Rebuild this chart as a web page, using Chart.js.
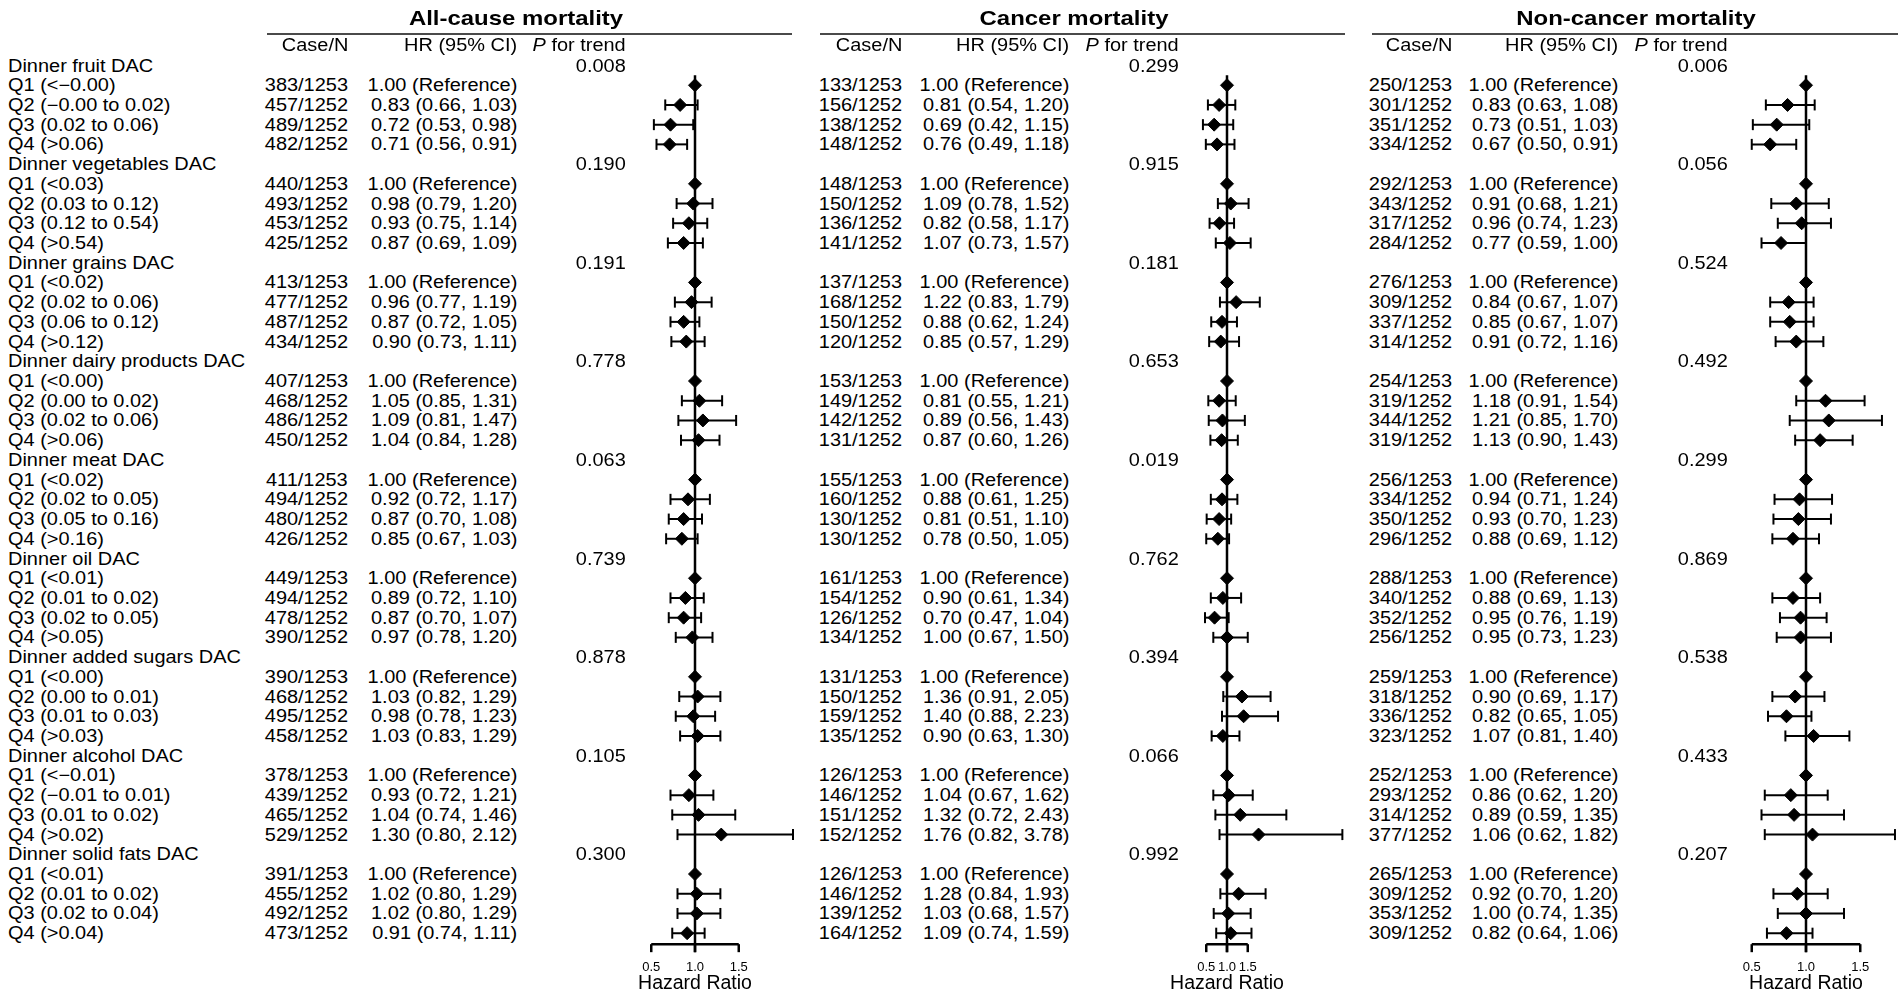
<!DOCTYPE html>
<html>
<head>
<meta charset="utf-8">
<script src="https://cdn.jsdelivr.net/npm/chart.js@4.4.1/dist/chart.umd.min.js"></script>
<style>
  html, body { margin: 0; padding: 0; background: #fff; }
  #page { position: relative; width: 1902px; height: 1000px; overflow: hidden;
          font-family: "Liberation Sans", Arial, sans-serif; color: #000; }
  #page canvas { position: absolute; top: 0; }
  .t { position: absolute; white-space: nowrap; font-size: 17.5px; height: 20px; line-height: 20px; }
  .l { transform-origin: left center; transform: scaleX(1.14); }
  .r { text-align: right; transform-origin: right center; transform: scaleX(1.14); }
  .title { font-weight: bold; font-size: 21px; height: 26px; line-height: 26px;
           transform: translateX(-50%) scaleX(1.14); }
  .rule { position: absolute; height: 2px; background: #4a4a4a; }
</style>
</head>
<body>
<div id="page">
  <canvas id="forest0" width="210" height="1000"></canvas>
  <canvas id="forest1" width="250" height="1000"></canvas>
  <canvas id="forest2" width="192" height="1000"></canvas>
</div>
<script>
// ---- data ----
var groups = ['Dinner fruit DAC', 'Dinner vegetables DAC', 'Dinner grains DAC',
  'Dinner dairy products DAC', 'Dinner meat DAC', 'Dinner oil DAC',
  'Dinner added sugars DAC', 'Dinner alcohol DAC', 'Dinner solid fats DAC'];

var quartiles = [
  'Q1 (<\u22120.00)', 'Q2 (\u22120.00 to 0.02)', 'Q3 (0.02 to 0.06)', 'Q4 (>0.06)',
  'Q1 (<0.03)', 'Q2 (0.03 to 0.12)', 'Q3 (0.12 to 0.54)', 'Q4 (>0.54)',
  'Q1 (<0.02)', 'Q2 (0.02 to 0.06)', 'Q3 (0.06 to 0.12)', 'Q4 (>0.12)',
  'Q1 (<0.00)', 'Q2 (0.00 to 0.02)', 'Q3 (0.02 to 0.06)', 'Q4 (>0.06)',
  'Q1 (<0.02)', 'Q2 (0.02 to 0.05)', 'Q3 (0.05 to 0.16)', 'Q4 (>0.16)',
  'Q1 (<0.01)', 'Q2 (0.01 to 0.02)', 'Q3 (0.02 to 0.05)', 'Q4 (>0.05)',
  'Q1 (<0.00)', 'Q2 (0.00 to 0.01)', 'Q3 (0.01 to 0.03)', 'Q4 (>0.03)',
  'Q1 (<\u22120.01)', 'Q2 (\u22120.01 to 0.01)', 'Q3 (0.01 to 0.02)', 'Q4 (>0.02)',
  'Q1 (<0.01)', 'Q2 (0.01 to 0.02)', 'Q3 (0.02 to 0.04)', 'Q4 (>0.04)'
];

var quartileN = [1253, 1252, 1252, 1252];
var tickValues = [0.5, 1.0, 1.5];

var allCases = [383, 457, 489, 482, 440, 493, 453, 425, 413, 477, 487, 434,
  407, 468, 486, 450, 411, 494, 480, 426, 449, 494, 478, 390,
  390, 468, 495, 458, 378, 439, 465, 529, 391, 455, 492, 473];
var allHR = [1.00, 0.83, 0.72, 0.71, 1.00, 0.98, 0.93, 0.87, 1.00, 0.96, 0.87, 0.90,
  1.00, 1.05, 1.09, 1.04, 1.00, 0.92, 0.87, 0.85, 1.00, 0.89, 0.87, 0.97,
  1.00, 1.03, 0.98, 1.03, 1.00, 0.93, 1.04, 1.30, 1.00, 1.02, 1.02, 0.91];
var allLow = [null, 0.66, 0.53, 0.56, null, 0.79, 0.75, 0.69, null, 0.77, 0.72, 0.73,
  null, 0.85, 0.81, 0.84, null, 0.72, 0.70, 0.67, null, 0.72, 0.70, 0.78,
  null, 0.82, 0.78, 0.83, null, 0.72, 0.74, 0.80, null, 0.80, 0.80, 0.74];
var allHigh = [null, 1.03, 0.98, 0.91, null, 1.20, 1.14, 1.09, null, 1.19, 1.05, 1.11,
  null, 1.31, 1.47, 1.28, null, 1.17, 1.08, 1.03, null, 1.10, 1.07, 1.20,
  null, 1.29, 1.23, 1.29, null, 1.21, 1.46, 2.12, null, 1.29, 1.29, 1.11];
var allP = ['0.008', '0.190', '0.191', '0.778', '0.063', '0.739', '0.878', '0.105', '0.300'];

var cancerCases = [133, 156, 138, 148, 148, 150, 136, 141, 137, 168, 150, 120,
  153, 149, 142, 131, 155, 160, 130, 130, 161, 154, 126, 134,
  131, 150, 159, 135, 126, 146, 151, 152, 126, 146, 139, 164];
var cancerHR = [1.00, 0.81, 0.69, 0.76, 1.00, 1.09, 0.82, 1.07, 1.00, 1.22, 0.88, 0.85,
  1.00, 0.81, 0.89, 0.87, 1.00, 0.88, 0.81, 0.78, 1.00, 0.90, 0.70, 1.00,
  1.00, 1.36, 1.40, 0.90, 1.00, 1.04, 1.32, 1.76, 1.00, 1.28, 1.03, 1.09];
var cancerLow = [null, 0.54, 0.42, 0.49, null, 0.78, 0.58, 0.73, null, 0.83, 0.62, 0.57,
  null, 0.55, 0.56, 0.60, null, 0.61, 0.51, 0.50, null, 0.61, 0.47, 0.67,
  null, 0.91, 0.88, 0.63, null, 0.67, 0.72, 0.82, null, 0.84, 0.68, 0.74];
var cancerHigh = [null, 1.20, 1.15, 1.18, null, 1.52, 1.17, 1.57, null, 1.79, 1.24, 1.29,
  null, 1.21, 1.43, 1.26, null, 1.25, 1.10, 1.05, null, 1.34, 1.04, 1.50,
  null, 2.05, 2.23, 1.30, null, 1.62, 2.43, 3.78, null, 1.93, 1.57, 1.59];
var cancerP = ['0.299', '0.915', '0.181', '0.653', '0.019', '0.762', '0.394', '0.066', '0.992'];

var otherCases = [250, 301, 351, 334, 292, 343, 317, 284, 276, 309, 337, 314,
  254, 319, 344, 319, 256, 334, 350, 296, 288, 340, 352, 256,
  259, 318, 336, 323, 252, 293, 314, 377, 265, 309, 353, 309];
var otherHR = [1.00, 0.83, 0.73, 0.67, 1.00, 0.91, 0.96, 0.77, 1.00, 0.84, 0.85, 0.91,
  1.00, 1.18, 1.21, 1.13, 1.00, 0.94, 0.93, 0.88, 1.00, 0.88, 0.95, 0.95,
  1.00, 0.90, 0.82, 1.07, 1.00, 0.86, 0.89, 1.06, 1.00, 0.92, 1.00, 0.82];
var otherLow = [null, 0.63, 0.51, 0.50, null, 0.68, 0.74, 0.59, null, 0.67, 0.67, 0.72,
  null, 0.91, 0.85, 0.90, null, 0.71, 0.70, 0.69, null, 0.69, 0.76, 0.73,
  null, 0.69, 0.65, 0.81, null, 0.62, 0.59, 0.62, null, 0.70, 0.74, 0.64];
var otherHigh = [null, 1.08, 1.03, 0.91, null, 1.21, 1.23, 1.00, null, 1.07, 1.07, 1.16,
  null, 1.54, 1.70, 1.43, null, 1.24, 1.23, 1.12, null, 1.13, 1.19, 1.23,
  null, 1.17, 1.05, 1.40, null, 1.20, 1.35, 1.82, null, 1.20, 1.35, 1.06];
var otherP = ['0.006', '0.056', '0.524', '0.492', '0.299', '0.869', '0.538', '0.433', '0.207'];

// ---- layout ----
var family = '"Liberation Sans", Arial, sans-serif';
var ROW0 = 65.5, ROWH = 19.72, PLOT_BOTTOM = 955, PAGE_W = 1902, PAGE_H = 1000;
var yMin = -ROW0 / ROWH;
var yMax = yMin + PLOT_BOTTOM / ROWH;
var axisRow = 44 + 11 / ROWH;
var tickRow = axisRow + 4 / ROWH;
var headerRow = -1.04;

var panels = [
  { title: 'All-cause mortality', cases: allCases, hr: allHR, low: allLow, high: allHigh, p: allP },
  { title: 'Cancer mortality', cases: cancerCases, hr: cancerHR, low: cancerLow, high: cancerHigh, p: cancerP },
  { title: 'Non-cancer mortality', cases: otherCases, hr: otherHR, low: otherLow, high: otherHigh, p: otherP }
];
var place = [
  { titleX: 516, ruleL: 267, ruleR: 792, caseR: 348, hrR: 517, pR: 626, center: 695, perUnit: 87.5, half: 105 },
  { titleX: 1074, ruleL: 820, ruleR: 1345, caseR: 902, hrR: 1069, pR: 1179, center: 1227, perUnit: 41.5, half: 125 },
  { titleX: 1636, ruleL: 1372, ruleR: 1898, caseR: 1452, hrR: 1618, pR: 1728, center: 1806, perUnit: 108.5, half: 96 }
];

function quartileRow(i) {
  return Math.floor(i / 4) * 5 + 1 + (i % 4);
}

function buildDatasets(panel) {
  var sets = [];
  sets.push({
    data: panel.hr.map(function (v, i) { return { x: v, y: quartileRow(i) }; }),
    pointStyle: 'rectRot', pointRadius: 6.5, pointHoverRadius: 6.5,
    backgroundColor: '#000', borderColor: '#000', borderWidth: 1,
    showLine: false, clip: false, order: 0
  });
  panel.low.forEach(function (lo, i) {
    if (lo === null) return;
    var row = quartileRow(i);
    sets.push({
      data: [{ x: lo, y: row }, { x: panel.high[i], y: row }],
      showLine: true, borderColor: '#000', borderWidth: 2,
      pointStyle: 'line', pointRotation: 90, pointRadius: 5.5, pointHoverRadius: 5.5,
      pointBorderWidth: 2, pointBorderColor: '#000', clip: false, order: 2
    });
  });
  // reference line at HR = 1
  sets.push({
    data: [{ x: 1, y: 0.5 }, { x: 1, y: axisRow + 8 / ROWH }],
    showLine: true, borderColor: '#000', borderWidth: 2.5, pointRadius: 0, clip: false, order: 1
  });
  // axis segment 0.5 - 1.5
  sets.push({
    data: [{ x: tickValues[0], y: axisRow }, { x: tickValues[tickValues.length - 1], y: axisRow }],
    showLine: true, borderColor: '#000', borderWidth: 2.5, pointRadius: 0, clip: false, order: 1
  });
  // tick marks
  sets.push({
    data: tickValues.map(function (v) { return { x: v, y: tickRow }; }),
    showLine: false, pointStyle: 'line', pointRotation: 90, pointRadius: 4,
    pointBorderWidth: 2.5, pointBorderColor: '#000', clip: false, order: 1
  });
  return sets;
}

var charts = [];
panels.forEach(function (panel, k) {
  var pl = place[k];
  var canvas = document.getElementById('forest' + k);
  canvas.style.left = (pl.center - pl.half) + 'px';
  var chart = new Chart(canvas.getContext('2d'), {
    type: 'scatter',
    data: { datasets: buildDatasets(panel) },
    options: {
      responsive: false,
      animation: false,
      events: [],
      layout: { padding: 0, autoPadding: false },
      plugins: { legend: { display: false }, tooltip: { enabled: false } },
      scales: {
        x: {
          type: 'linear',
          min: 1 - pl.half / pl.perUnit,
          max: 1 + pl.half / pl.perUnit,
          afterBuildTicks: function (s) { s.ticks = tickValues.map(function (v) { return { value: v }; }); },
          afterFit: function (s) { s.height = PAGE_H - PLOT_BOTTOM; },
          grid: { display: false, drawTicks: false },
          border: { display: false },
          ticks: {
            autoSkip: false, maxRotation: 0, minRotation: 0, padding: 5, color: '#000',
            font: { size: 13, family: family },
            callback: function (v) { return Number(v).toFixed(1); }
          },
          title: {
            display: true, text: 'Hazard Ratio', color: '#000',
            font: { size: 19.5, family: family }, padding: { top: 0, bottom: 5 }
          }
        },
        y: { type: 'linear', display: false, reverse: true, min: yMin, max: yMax }
      }
    }
  });
  charts.push(chart);
});

// ---- text table, rows placed with the chart's y scale ----
var page = document.getElementById('page');
var yScale = charts[0].scales.y;

function addText(html, x, y, cls, alignRight) {
  var d = document.createElement('div');
  d.className = 't ' + cls;
  d.innerHTML = html;
  if (alignRight) d.style.right = (PAGE_W - x) + 'px';
  else d.style.left = x + 'px';
  d.style.top = (y - 10) + 'px';
  page.appendChild(d);
  return d;
}

function rowY(row) { return yScale.getPixelForValue(row); }

groups.forEach(function (g, gi) {
  addText(g, 8, rowY(gi * 5), 'l', false);
});
quartiles.forEach(function (q, i) {
  addText(q.replace('<', '&lt;').replace('>', '&gt;'), 8, rowY(quartileRow(i)), 'l', false);
});

panels.forEach(function (panel, k) {
  var pl = place[k];
  var t = addText(panel.title, pl.titleX, 18, 'title', false);
  t.style.top = (18 - 13) + 'px';
  var rule = document.createElement('div');
  rule.className = 'rule';
  rule.style.left = pl.ruleL + 'px';
  rule.style.width = (pl.ruleR - pl.ruleL) + 'px';
  rule.style.top = '33px';
  page.appendChild(rule);

  addText('Case/N', pl.caseR, rowY(headerRow), 'r', true);
  addText('HR (95% CI)', pl.hrR, rowY(headerRow), 'r', true);
  addText('<i>P</i> for trend', pl.pR, rowY(headerRow), 'r', true);

  panel.p.forEach(function (p, gi) {
    addText(p, pl.pR, rowY(gi * 5), 'r', true);
  });
  panel.cases.forEach(function (c, i) {
    var y = rowY(quartileRow(i));
    addText(c + '/' + quartileN[i % 4], pl.caseR, y, 'r', true);
    var hrText = panel.low[i] === null
      ? panel.hr[i].toFixed(2) + ' (Reference)'
      : panel.hr[i].toFixed(2) + ' (' + panel.low[i].toFixed(2) + ', ' + panel.high[i].toFixed(2) + ')';
    addText(hrText, pl.hrR, y, 'r', true);
  });
});
</script>
</body>
</html>
